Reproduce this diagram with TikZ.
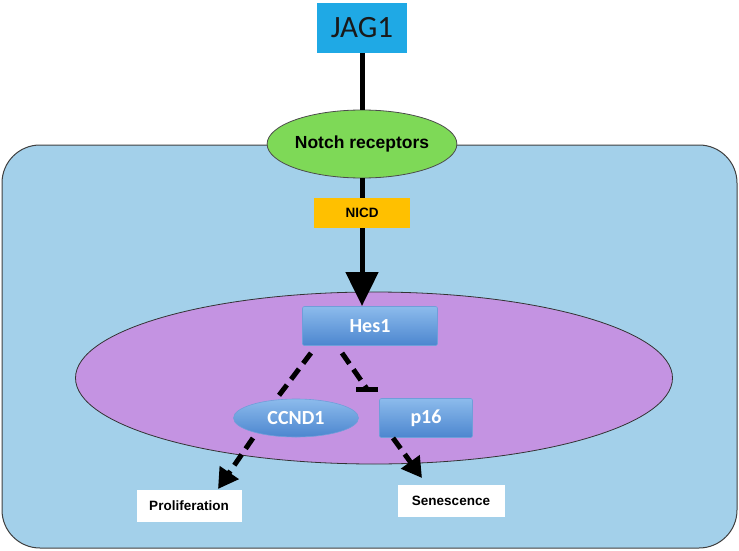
\documentclass[tikz,border=0pt]{standalone}
\usepackage{fontspec}
\setmainfont{Liberation Sans}
\newfontfamily\calib{Carlito}
\usetikzlibrary{arrows.meta,shapes.geometric,calc}
\definecolor{cellblue}{HTML}{A3D0EA}
\definecolor{jagblue}{HTML}{1FA9E5}
\definecolor{notchgreen}{HTML}{7ED957}
\definecolor{nicdorange}{HTML}{FFC000}
\definecolor{nucpurple}{HTML}{C493E2}
\definecolor{protTop}{HTML}{8CBBEC}
\definecolor{protBot}{HTML}{4C86CF}
\begin{document}
\begin{tikzpicture}[x=1pt,y=-1pt,
  protein/.style={draw=protBot!80!white,line width=0.6pt,top color=protTop,bottom color=protBot,text=white,font=\calib\bfseries\fontsize{20}{22}\selectfont,inner sep=0pt},
  outcome/.style={draw=none,fill=white,font=\bfseries\fontsize{13.5}{15}\selectfont,inner sep=0pt},
  thick line/.style={line width=5pt},
  dashline/.style={line width=5pt,dash pattern=on 13pt off 7pt}
]
\useasboundingbox (0,0) rectangle (739,551);
% cell
\draw[fill=cellblue,draw=black!75,line width=1pt,rounded corners=38pt] (2,145) rectangle (737,548);
% nucleus
\node[ellipse,draw=black!80,line width=0.8pt,fill=nucpurple,minimum width=597pt,minimum height=172pt,inner sep=0pt] (nuc) at (374,378) {};
% JAG1
\node[fill=jagblue,minimum width=90pt,minimum height=50pt,inner sep=0pt,font=\calib\fontsize{31}{33}\selectfont,text=black!90] (jag) at (362,28) {JAG1};
% Notch receptors
\node[ellipse,draw=black!70,line width=0.8pt,fill=notchgreen,minimum width=177pt,minimum height=68pt,inner sep=0pt,font=\bfseries\fontsize{17.5}{19}\selectfont] (notch) at (362,144) {Notch receptors};
% NICD
\node[fill=nicdorange,minimum width=96pt,minimum height=30pt,inner sep=0pt,font=\bfseries\fontsize{13.5}{15}\selectfont] (nicd) at (362,213) {NICD};
\coordinate (tip) at (362,306);
% Hes1 etc
\node[protein,minimum width=135pt,minimum height=39pt,rounded corners=2pt] (hes) at (370,326) {Hes1};
\node[protein,ellipse,minimum width=125pt,minimum height=38pt] (ccnd) at (296,418) {CCND1};
\node[protein,minimum width=93pt,minimum height=39pt,rounded corners=2pt] (p16) at (426,418) {p16};
\node[outcome,minimum width=105pt,minimum height=32pt] (prol) at (189,506) {Proliferation};
\node[outcome,minimum width=107pt,minimum height=32pt] (sen) at (451,501) {Senescence};
% connectors
\draw[thick line] (jag.south) -- (notch.north);
\draw[thick line] (notch.south) -- (nicd.north);
\draw[thick line,-{Triangle[length=34pt,width=32pt]}] (nicd.south) -- (tip);
\coordinate (h1) at (311,353);
\coordinate (c1) at (277,398);
\draw[dashline] (h1) -- (c1);
\coordinate (h2) at (342,353);
\coordinate (p1) at (367,389);
\draw[dashline] (h2) -- ($(p1)!4pt!(h2)$) coordinate (p1b);
\draw[line width=5pt] (p1b) -- (p1);
\draw[line width=5pt] ($(p1)+(-11,0)$) -- ($(p1)+(11,0)$);
\coordinate (c2) at (253,438);
\coordinate (c2end) at (218,489);
\draw[dashline,-{Triangle[length=20pt,width=22pt]}] (c2) -- (c2end);
\coordinate (p2) at (393,438);
\coordinate (p2end) at (422,478);
\draw[dashline,-{Triangle[length=20pt,width=22pt]}] (p2) -- (p2end);
\end{tikzpicture}
\end{document}
